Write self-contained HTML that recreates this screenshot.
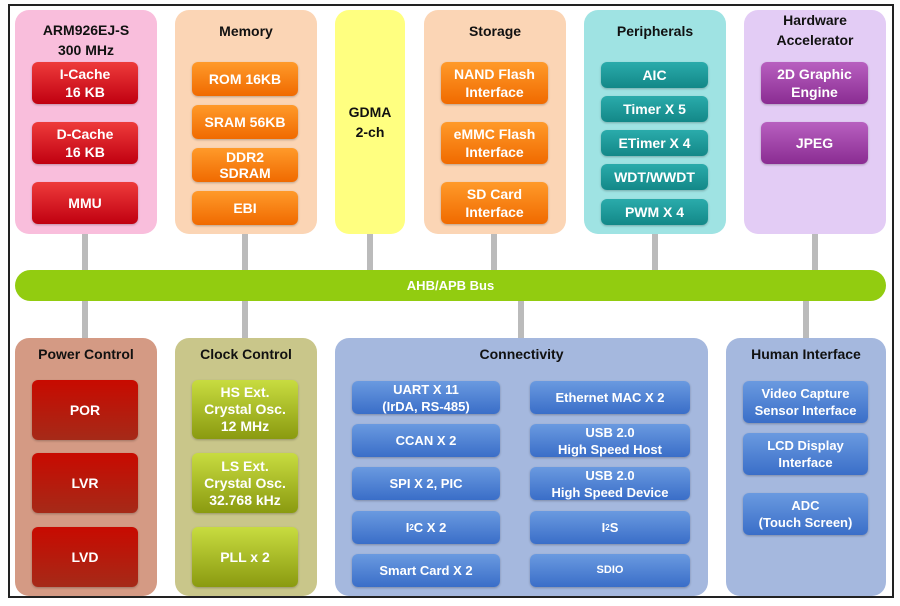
<!DOCTYPE html>
<html><head><style>
body{margin:0;width:900px;height:606px;background:#fff;position:relative;overflow:hidden;font-family:"Liberation Sans",sans-serif;}
.a{position:absolute;box-sizing:border-box;}
.frame{left:8px;top:4px;width:886px;height:594px;border:2px solid #222;}
.p{border-radius:14px;}
.t{position:absolute;left:0;right:0;text-align:center;font-weight:bold;font-size:14px;color:#111;line-height:20px;}
.b{position:absolute;border-radius:6px;display:flex;align-items:center;justify-content:center;text-align:center;color:#fff;font-weight:bold;font-size:14px;line-height:18px;box-shadow:0 1px 2px rgba(0,0,0,.25);}
.red{background:linear-gradient(#ee3b3b,#c00010);}
.org{background:linear-gradient(#ff9a2a,#f06a00);}
.teal{background:linear-gradient(#2aabab,#138888);}
.pur{background:linear-gradient(#b860c0,#8a2c92);}
.dred{background:linear-gradient(#c80a00,#a52a18);}
.oli{background:linear-gradient(#c8dc40,#8a9a10);}
.blu{background:linear-gradient(#6a9ae0,#3a6ec8);font-size:13px;line-height:17px;}
.c{position:absolute;width:6px;background:#bbb;}
</style></head><body>
<div class="a frame"></div>
<div class="c" style="left:82px;top:234px;height:38px"></div>
<div class="c" style="left:242px;top:234px;height:38px"></div>
<div class="c" style="left:367px;top:234px;height:38px"></div>
<div class="c" style="left:491px;top:234px;height:38px"></div>
<div class="c" style="left:652px;top:234px;height:38px"></div>
<div class="c" style="left:812px;top:234px;height:38px"></div>
<div class="c" style="left:82px;top:298px;height:42px"></div>
<div class="c" style="left:242px;top:298px;height:42px"></div>
<div class="c" style="left:518px;top:298px;height:42px"></div>
<div class="c" style="left:803px;top:298px;height:42px"></div>
<div class="a" style="left:15px;top:270px;width:871px;height:31px;background:#92cc10;border-radius:16px;color:#fff;font-weight:bold;font-size:13px;text-align:center;line-height:31px;">AHB/APB Bus</div>

<div class="a p" style="left:15px;top:10px;width:142px;height:224px;background:#f9bedc">
<div class="t" style="top:10px">ARM926EJ-S<br>300 MHz</div>
<div class="b red" style="left:17px;top:52px;width:106px;height:42px">I-Cache<br>16 KB</div>
<div class="b red" style="left:17px;top:112px;width:106px;height:42px">D-Cache<br>16 KB</div>
<div class="b red" style="left:17px;top:172px;width:106px;height:42px">MMU</div>
</div>
<div class="a p" style="left:175px;top:10px;width:142px;height:224px;background:#fbd5b5">
<div class="t" style="top:11px">Memory</div>
<div class="b org" style="left:17px;top:52px;width:106px;height:34px">ROM 16KB</div>
<div class="b org" style="left:17px;top:95px;width:106px;height:34px">SRAM 56KB</div>
<div class="b org" style="left:17px;top:138px;width:106px;height:34px;line-height:16px">DDR2<br>SDRAM</div>
<div class="b org" style="left:17px;top:181px;width:106px;height:34px">EBI</div>
</div>
<div class="a p" style="left:335px;top:10px;width:70px;height:224px;background:#ffff80">
<div class="t" style="top:92px">GDMA<br>2-ch</div>
</div>
<div class="a p" style="left:424px;top:10px;width:142px;height:224px;background:#fbd5b5">
<div class="t" style="top:11px">Storage</div>
<div class="b org" style="left:17px;top:52px;width:107px;height:42px">NAND Flash<br>Interface</div>
<div class="b org" style="left:17px;top:112px;width:107px;height:42px">eMMC Flash<br>Interface</div>
<div class="b org" style="left:17px;top:172px;width:107px;height:42px">SD Card<br>Interface</div>
</div>
<div class="a p" style="left:584px;top:10px;width:142px;height:224px;background:#9fe3e3">
<div class="t" style="top:11px">Peripherals</div>
<div class="b teal" style="left:17px;top:52px;width:107px;height:26px">AIC</div>
<div class="b teal" style="left:17px;top:86px;width:107px;height:26px">Timer X 5</div>
<div class="b teal" style="left:17px;top:120px;width:107px;height:26px">ETimer X 4</div>
<div class="b teal" style="left:17px;top:154px;width:107px;height:26px">WDT/WWDT</div>
<div class="b teal" style="left:17px;top:189px;width:107px;height:26px">PWM X 4</div>
</div>
<div class="a p" style="left:744px;top:10px;width:142px;height:224px;background:#e3ccf5">
<div class="t" style="top:0px">Hardware<br>Accelerator</div>
<div class="b pur" style="left:17px;top:52px;width:107px;height:42px">2D Graphic<br>Engine</div>
<div class="b pur" style="left:17px;top:112px;width:107px;height:42px">JPEG</div>
</div>

<div class="a p" style="left:15px;top:338px;width:142px;height:258px;background:#d49a84">
<div class="t" style="top:6px">Power Control</div>
<div class="b dred" style="left:17px;top:42px;width:106px;height:60px">POR</div>
<div class="b dred" style="left:17px;top:115px;width:106px;height:60px">LVR</div>
<div class="b dred" style="left:17px;top:189px;width:106px;height:60px">LVD</div>
</div>
<div class="a p" style="left:175px;top:338px;width:142px;height:258px;background:#c9c68a">
<div class="t" style="top:6px">Clock Control</div>
<div class="b oli" style="left:17px;top:42px;width:106px;height:59px;line-height:17px">HS Ext.<br>Crystal Osc.<br>12 MHz</div>
<div class="b oli" style="left:17px;top:115px;width:106px;height:60px;line-height:17px">LS Ext.<br>Crystal Osc.<br>32.768 kHz</div>
<div class="b oli" style="left:17px;top:189px;width:106px;height:60px">PLL x 2</div>
</div>
<div class="a p" style="left:335px;top:338px;width:373px;height:258px;background:#a5b8de">
<div class="t" style="top:6px">Connectivity</div>
<div class="b blu" style="left:17px;top:43px;width:148px;height:33px">UART X 11<br>(IrDA, RS-485)</div>
<div class="b blu" style="left:17px;top:86px;width:148px;height:33px">CCAN X 2</div>
<div class="b blu" style="left:17px;top:129px;width:148px;height:33px">SPI X 2, PIC</div>
<div class="b blu" style="left:17px;top:173px;width:148px;height:33px">I<sup style="font-size:8px">2</sup>C X 2</div>
<div class="b blu" style="left:17px;top:216px;width:148px;height:33px">Smart Card X 2</div>
<div class="b blu" style="left:195px;top:43px;width:160px;height:33px">Ethernet MAC X 2</div>
<div class="b blu" style="left:195px;top:86px;width:160px;height:33px">USB 2.0<br>High Speed Host</div>
<div class="b blu" style="left:195px;top:129px;width:160px;height:33px">USB 2.0<br>High Speed Device</div>
<div class="b blu" style="left:195px;top:173px;width:160px;height:33px">I<sup style="font-size:8px">2</sup>S</div>
<div class="b blu" style="left:195px;top:216px;width:160px;height:33px;font-size:11px">SDIO</div>
</div>
<div class="a p" style="left:726px;top:338px;width:160px;height:258px;background:#a5b8de">
<div class="t" style="top:6px">Human Interface</div>
<div class="b blu" style="left:17px;top:43px;width:125px;height:42px">Video Capture<br>Sensor Interface</div>
<div class="b blu" style="left:17px;top:95px;width:125px;height:42px">LCD Display<br>Interface</div>
<div class="b blu" style="left:17px;top:155px;width:125px;height:42px">ADC<br>(Touch Screen)</div>
</div>
</body></html>
